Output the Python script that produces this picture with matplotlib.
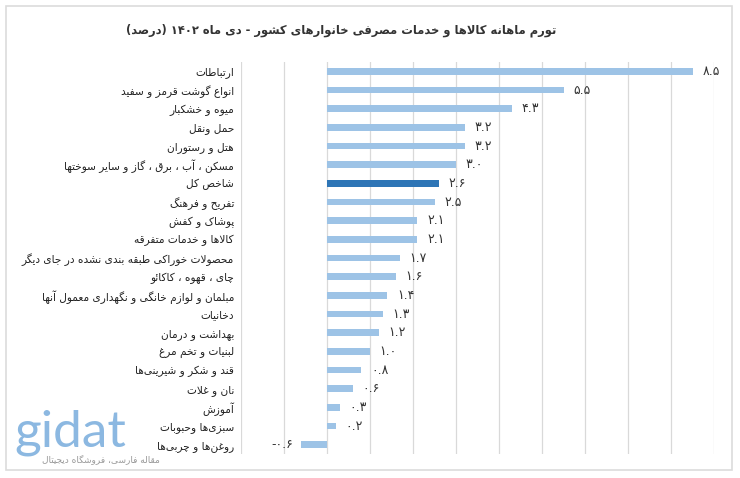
import matplotlib.pyplot as plt
from matplotlib.patches import Rectangle

# داده‌ها
categories = [
    'ارتباطات',
    'انواع گوشت قرمز و سفید',
    'میوه و خشکبار',
    'حمل ونقل',
    'هتل و رستوران',
    'مسکن ، آب ، برق ، گاز و سایر سوختها',
    'شاخص کل',
    'تفریح و فرهنگ',
    'پوشاک و کفش',
    'کالاها و خدمات متفرقه',
    'محصولات خوراکی طبقه بندی نشده در جای دیگر',
    'چای ، قهوه ، کاکائو',
    'مبلمان و لوازم خانگی و نگهداری معمول آنها',
    'دخانیات',
    'بهداشت و درمان',
    'لبنیات و تخم مرغ',
    'قند و شکر و شیرینی‌ها',
    'نان و غلات',
    'آموزش',
    'سبزی‌ها وحبوبات',
    'روغن‌ها و چربی‌ها',
]
values = [8.5, 5.5, 4.3, 3.2, 3.2, 3.0, 2.6, 2.5, 2.1, 2.1, 1.7, 1.6, 1.4, 1.3, 1.2, 1.0, 0.8, 0.6, 0.3, 0.2, -0.6]
highlight = 'شاخص کل'
title = 'تورم ماهانه کالاها و خدمات مصرفی خانوارهای کشور - دی ماه ۱۴۰۲ (درصد)'

# matplotlib حروف عربی را به هم نمی‌چسباند، پس دستی شکل می‌دهیم
FORMS = {
    'ا': (0xFE8D, 0xFE8E, None, None), 'آ': (0xFE81, 0xFE82, None, None),
    'ب': (0xFE8F, 0xFE90, 0xFE91, 0xFE92), 'پ': (0xFB56, 0xFB57, 0xFB58, 0xFB59),
    'ت': (0xFE95, 0xFE96, 0xFE97, 0xFE98), 'ث': (0xFE99, 0xFE9A, 0xFE9B, 0xFE9C),
    'ج': (0xFE9D, 0xFE9E, 0xFE9F, 0xFEA0), 'چ': (0xFB7A, 0xFB7B, 0xFB7C, 0xFB7D),
    'ح': (0xFEA1, 0xFEA2, 0xFEA3, 0xFEA4), 'خ': (0xFEA5, 0xFEA6, 0xFEA7, 0xFEA8),
    'د': (0xFEA9, 0xFEAA, None, None), 'ذ': (0xFEAB, 0xFEAC, None, None),
    'ر': (0xFEAD, 0xFEAE, None, None), 'ز': (0xFEAF, 0xFEB0, None, None),
    'ژ': (0xFB8A, 0xFB8B, None, None),
    'س': (0xFEB1, 0xFEB2, 0xFEB3, 0xFEB4), 'ش': (0xFEB5, 0xFEB6, 0xFEB7, 0xFEB8),
    'ص': (0xFEB9, 0xFEBA, 0xFEBB, 0xFEBC), 'ض': (0xFEBD, 0xFEBE, 0xFEBF, 0xFEC0),
    'ط': (0xFEC1, 0xFEC2, 0xFEC3, 0xFEC4), 'ظ': (0xFEC5, 0xFEC6, 0xFEC7, 0xFEC8),
    'ع': (0xFEC9, 0xFECA, 0xFECB, 0xFECC), 'غ': (0xFECD, 0xFECE, 0xFECF, 0xFED0),
    'ف': (0xFED1, 0xFED2, 0xFED3, 0xFED4), 'ق': (0xFED5, 0xFED6, 0xFED7, 0xFED8),
    'ک': (0xFB8E, 0xFB8F, 0xFB90, 0xFB91), 'گ': (0xFB92, 0xFB93, 0xFB94, 0xFB95),
    'ل': (0xFEDD, 0xFEDE, 0xFEDF, 0xFEE0), 'م': (0xFEE1, 0xFEE2, 0xFEE3, 0xFEE4),
    'ن': (0xFEE5, 0xFEE6, 0xFEE7, 0xFEE8), 'و': (0xFEED, 0xFEEE, None, None),
    'ه': (0xFEE9, 0xFEEA, 0xFEEB, 0xFEEC), 'ی': (0xFBFC, 0xFBFD, 0xFBFE, 0xFBFF),
    'ئ': (0xFE89, 0xFE8A, 0xFE8B, 0xFE8C),
}
LAM_ALEF = {'ا': (0xFEFB, 0xFEFC), 'آ': (0xFEF5, 0xFEF6)}
DIGITS = str.maketrans('0123456789', '۰۱۲۳۴۵۶۷۸۹')


def fa(text):
    out = []
    n = len(text)
    i = 0
    while i < n:
        c = text[i]
        if c not in FORMS:
            if c != '\u200c':
                out.append(c)
            i += 1
            continue
        prev = text[i - 1] if i > 0 else ''
        joins_prev = prev in FORMS and FORMS[prev][2] is not None
        if c == 'ل' and i + 1 < n and text[i + 1] in LAM_ALEF:
            iso, fin = LAM_ALEF[text[i + 1]]
            out.append(chr(fin if joins_prev else iso))
            i += 2
            continue
        nxt = text[i + 1] if i + 1 < n else ''
        joins_next = FORMS[c][2] is not None and nxt in FORMS
        iso, fin, ini, med = FORMS[c]
        if joins_prev and joins_next:
            out.append(chr(med))
        elif joins_prev:
            out.append(chr(fin))
        elif joins_next:
            out.append(chr(ini))
        else:
            out.append(chr(iso))
        i += 1
    # ترتیب نمایشی راست به چپ، اعداد چپ به راست می‌مانند
    s = ''.join(out)[::-1]
    res, run = [], ''
    for ch in s:
        if ch in '۰۱۲۳۴۵۶۷۸۹':
            run += ch
        else:
            if run:
                res.append(run[::-1])
                run = ''
            res.append({'(': ')', ')': '('}.get(ch, ch))
    if run:
        res.append(run[::-1])
    return ''.join(res)


plt.rcParams['font.family'] = ['DejaVu Sans']

fig = plt.figure(figsize=(7.4, 4.78), dpi=100)
ax = fig.add_axes([241 / 740, 1 - 454 / 478, (714 - 241) / 740, (454 - 62) / 478])

# واترمارک (زیر همه چیز)
fig.text(14 / 740, 1 - 446 / 478, 'gidat', fontsize=37, color='#5b9bd5',
         alpha=0.7, ha='left', va='baseline', family='Lato', zorder=0)
fig.text(160 / 740, 1 - 459 / 478, fa('مقاله فارسی، فروشگاه دیجیتال'), fontsize=6.5,
         color='#999999', ha='right', va='center', zorder=0)

pos = list(range(len(categories)))
colors = ['#2e75b6' if c == highlight else '#9dc3e6' for c in categories]
ax.barh(pos, values, height=0.36, color=colors, zorder=2)

for y, v in zip(pos, values):
    txt = f'{v:.1f}'.translate(DIGITS)
    if v >= 0:
        ax.annotate(txt, (v, y), xytext=(7, 0), textcoords='offset points',
                    ha='left', va='center', fontsize=9, color='#333333')
    else:
        ax.annotate(txt, (v, y), xytext=(-6, 0), textcoords='offset points',
                    ha='right', va='center', fontsize=9, color='#333333')

ax.set_xlim(-2, 9)
ax.set_ylim(len(categories) - 0.5, -0.5)
ax.set_xticks(range(-2, 10))
ax.set_xticklabels([])
ax.set_yticks(pos)
ax.set_yticklabels([fa(c) for c in categories], fontsize=7.6, color='#222222')
ax.tick_params(length=0, pad=5)
ax.grid(axis='x', color='#d9d9d9', linewidth=0.9, zorder=0)
ax.patch.set_alpha(0)
for sp in ax.spines.values():
    sp.set_visible(False)

fig.text(0.461, 0.937, fa(title), ha='center', va='center', fontsize=8.3,
         fontweight='bold', color='#333333')

# قاب دور تصویر
fig.patches.append(Rectangle((6 / 740, 1 - 470 / 478), 726 / 740, 464 / 478,
                             transform=fig.transFigure, fill=False,
                             edgecolor='#dcdcdc', linewidth=1.2))

plt.savefig('out.png', dpi=100)
